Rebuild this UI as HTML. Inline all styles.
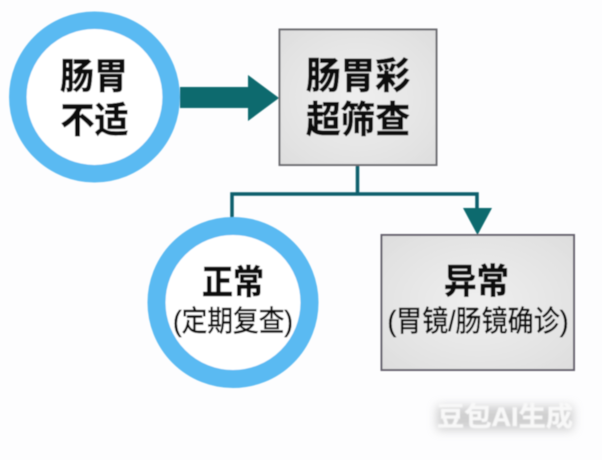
<!DOCTYPE html>
<html lang="zh">
<head>
<meta charset="utf-8">
<style>
html,body{margin:0;padding:0;background:#fdfdfe;width:602px;height:460px;overflow:hidden}
svg{display:block}
text{font-family:"Liberation Sans","Noto Sans CJK SC",sans-serif;fill:#0a0a0a;text-anchor:middle;dominant-baseline:central}
.t{font-weight:700;stroke:#0a0a0a;stroke-width:.5px}
.s{font-weight:400;stroke:#0a0a0a;stroke-width:.45px}
</style>
</head>
<body>
<svg width="602" height="460" viewBox="0 0 602 460" xmlns="http://www.w3.org/2000/svg">
<defs>
<radialGradient id="g" cx="50%" cy="50%" r="70%">
<stop offset="0" stop-color="#efefef"/>
<stop offset="1" stop-color="#dedede"/>
</radialGradient>
<filter id="b" x="-5%" y="-5%" width="110%" height="110%"><feGaussianBlur stdDeviation="0.45"/></filter>
<filter id="w" x="-20%" y="-50%" width="140%" height="200%"><feGaussianBlur stdDeviation="5"/></filter>
<filter id="b2" x="-5%" y="-20%" width="110%" height="140%"><feGaussianBlur stdDeviation="0.8"/></filter>
</defs>
<rect width="602" height="460" fill="#fdfdfe"/>
<g filter="url(#b)">
<path d="M357.5 165V194M232 218V194H477V212" fill="none" stroke="#0c5f6c" stroke-width="3.500"/>
<path d="M463 208H492L477.500 235Z" fill="#0b6a6e"/>
<path d="M180 87H248V75L279 98L248 121V108H180Z" fill="#0b6a6e"/>
<circle cx="94.500" cy="97" r="76.700" fill="#fff" stroke="#5abaf2" stroke-width="17.500"/>
<circle cx="233" cy="302.500" r="76.500" fill="#fff" stroke="#5abaf2" stroke-width="18"/>
<rect x="279.500" y="29.500" width="157" height="135.500" fill="url(#g)" stroke="#6d6d72" stroke-width="2"/>
<rect x="381.500" y="235" width="192.500" height="135" fill="url(#g)" stroke="#66646e" stroke-width="2"/>
<text class="t" x="94" y="76" font-size="36" textLength="68" lengthAdjust="spacingAndGlyphs">肠胃</text>
<text class="t" x="94.500" y="120" font-size="36" textLength="68" lengthAdjust="spacingAndGlyphs">不适</text>
<text class="t" x="358" y="76" font-size="37" textLength="104" lengthAdjust="spacingAndGlyphs">肠胃彩</text>
<text class="t" x="358" y="120" font-size="37" textLength="104" lengthAdjust="spacingAndGlyphs">超筛查</text>
<text class="t" x="233" y="283" font-size="34" textLength="62" lengthAdjust="spacingAndGlyphs">正常</text>
<text class="s" x="233" y="322" font-size="29" textLength="120" lengthAdjust="spacingAndGlyphs">(定期复查)</text>
<text class="t" x="476.500" y="282" font-size="35" textLength="65" lengthAdjust="spacingAndGlyphs">异常</text>
<text class="s" x="478" y="322" font-size="29" textLength="181" lengthAdjust="spacingAndGlyphs">(胃镜/肠镜确诊)</text>
</g>
<rect x="437" y="406" width="136" height="24" fill="#b0b0b0" opacity=".6" filter="url(#w)"/>
<text class="t" x="505" y="417" font-size="27" textLength="136" lengthAdjust="spacingAndGlyphs" style="fill:#f8f8f8;stroke:#f8f8f8" filter="url(#b2)">豆包AI生成</text>
</svg>
</body>
</html>
